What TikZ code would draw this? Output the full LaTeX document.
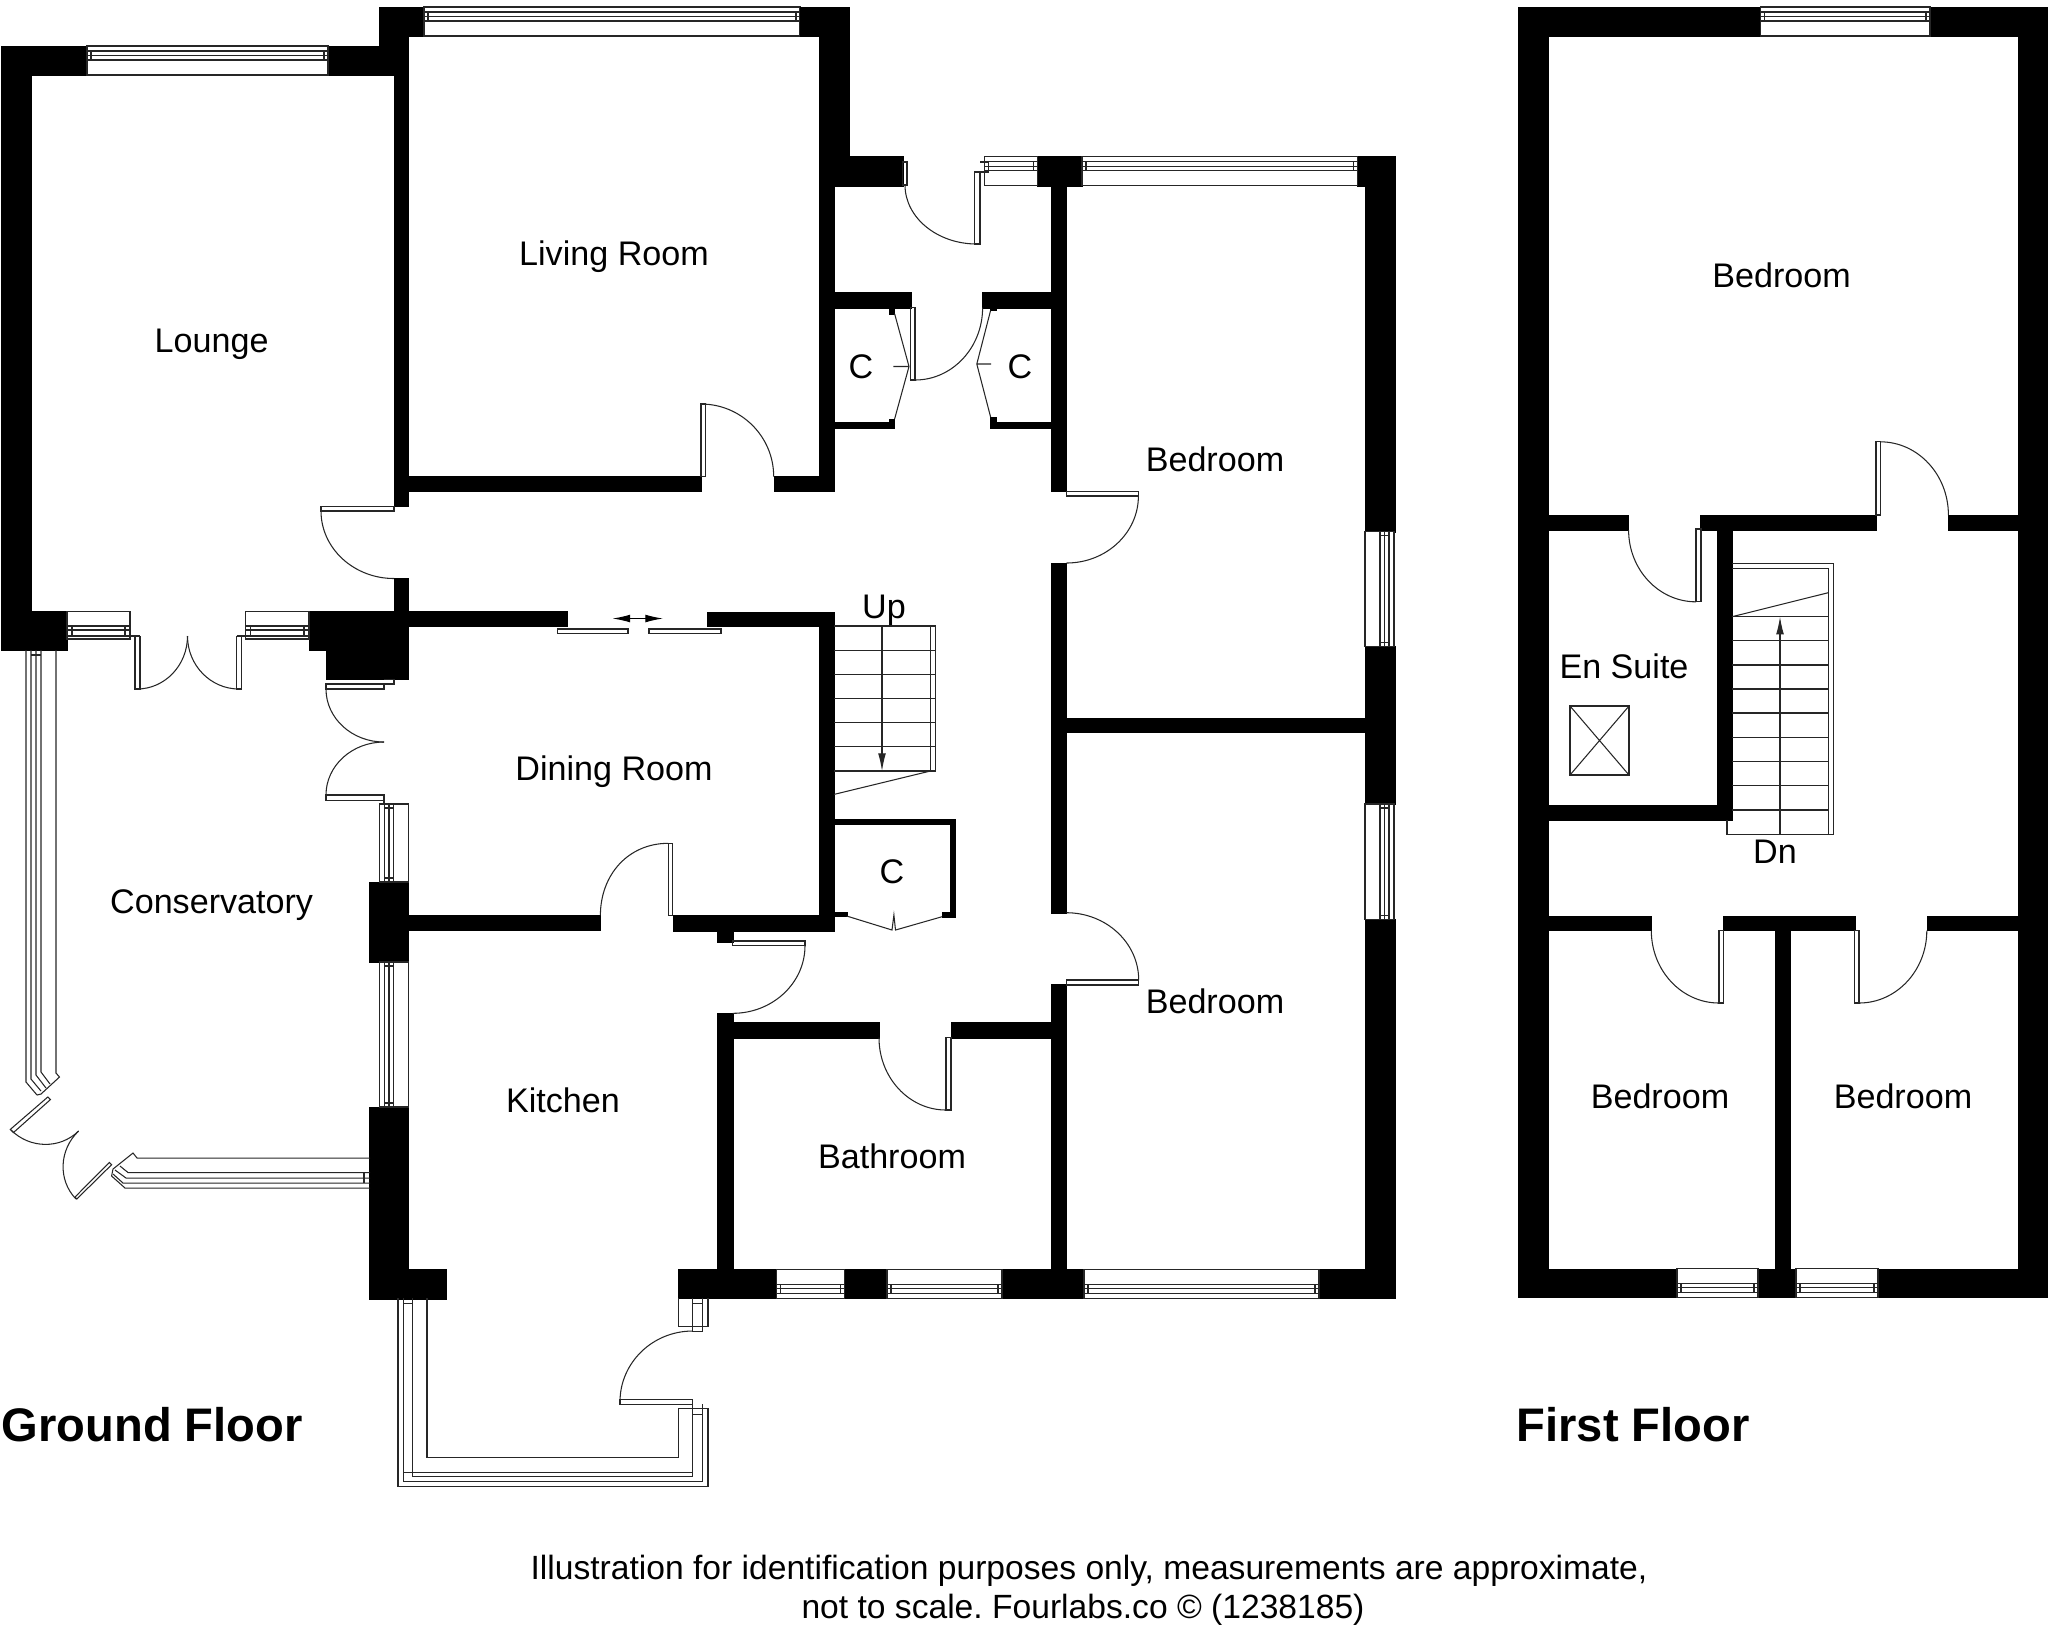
\documentclass[tikz,border=0pt]{standalone}
\usepackage{fontspec}
\setmainfont{Liberation Sans}
\frenchspacing
\usetikzlibrary{calc,arrows.meta}
\tikzset{
	wall/.style={fill=black,draw=black,line width=0.1pt},
	fine/.style={draw=black!85,line width=0.3pt},
	room/.style={inner sep=0pt,text height=6.9pt,text depth=0pt,font=\fontsize{9.7}{11}\selectfont},
	note/.style={inner sep=0pt,text height=6.9pt,text depth=0pt,font=\fontsize{9.56}{11}\selectfont},
	floorname/.style={inner sep=0pt,anchor=west,font=\fontsize{13.4}{15}\selectfont\bfseries},
	tip/.style={-{Latex[length=5pt,width=2.2pt]}}
}
\def\swing(#1)(#2)(#3){\draw[fine] (#1) .. controls ($(#1)!0.552!(#3)$) and ($(#2)!0.552!(#3)$) .. (#2);}
\def\winh(#1,#2,#3,#4){
	\draw[fill=white,fine] (#1,#3) rectangle (#2,{#3+#4*29});
	\draw[fine] (#1,{#3+#4*5}) -- (#2,{#3+#4*5}) (#1,{#3+#4*9.5}) -- (#2,{#3+#4*9.5}) (#1,{#3+#4*14}) -- (#2,{#3+#4*14});
	\draw[fine] ({#1+4},{#3+#4*5}) -- ({#1+4},{#3+#4*14}) ({#2-4},{#3+#4*5}) -- ({#2-4},{#3+#4*14});
}
\def\winv(#1,#2,#3,#4){
	\draw[fill=white,fine] (#1,#2) rectangle ({#1+#4*29},#3);
	\draw[fine] ({#1+#4*5},#2) -- ({#1+#4*5},#3) ({#1+#4*9.5},#2) -- ({#1+#4*9.5},#3) ({#1+#4*14},#2) -- ({#1+#4*14},#3);
	\draw[fine] ({#1+#4*5},{#2+4}) -- ({#1+#4*14},{#2+4}) ({#1+#4*5},{#3-4}) -- ({#1+#4*14},{#3-4});
}
\def\winlow(#1,#2){
	\draw[fine] (#1,611.6) rectangle (#2,639);
	\draw[fine] (#1,626) -- (#2,626) (#1,630) -- (#2,630) (#1,636) -- (#2,636);
	\draw[fine] ({#1+5},626) -- ({#1+5},636) ({#2-5},626) -- ({#2-5},636);
}

\begin{document}
\begin{tikzpicture}[x=0.01cm,y=-0.01cm]
	\useasboundingbox (0,0) rectangle (2048,1626);

	% lounge and living room
	\draw[wall] (1.5,46) rectangle (87,75);
	\draw[wall] (328,46) rectangle (408.5,75);
	\draw[wall] (379,7) rectangle (424,36);
	\draw[wall] (379,36) rectangle (408.5,46);
	\draw[wall] (1.5,46) rectangle (31.5,650);
	\draw[wall] (1.5,611.6) rectangle (67,650);
	\draw[wall] (394,75) rectangle (408.5,506);
	\draw[wall] (394,476.6) rectangle (701,491.3);
	\draw[wall] (773.7,476.6) rectangle (834,491.3);
	\draw[wall] (394,578.5) rectangle (408.5,611.6);
	\winh(87,328,46,1)
	\winh(424,800,7,1)
	\draw[wall] (800,7) rectangle (848.7,36);
	\draw[wall] (819,36) rectangle (848.7,186);
	\draw[wall] (819,156.6) rectangle (902.7,186);
	\draw[wall] (819,186) rectangle (834,491.3);

	% dining room walls
	\draw[wall] (309,611.6) rectangle (567.4,626.3);
	\draw[wall] (309,626) rectangle (408.5,650);
	\draw[wall] (326,650) rectangle (408.5,679.5);
	\draw[wall] (707,612) rectangle (834,626.3);
	\draw[wall] (819,612) rectangle (834,931);
	\draw[wall] (369.6,882) rectangle (408.5,962);
	\draw[wall] (408.5,915.4) rectangle (600.4,930.6);
	\draw[wall] (672.8,915.4) rectangle (834,931);

	% hall cupboards
	\draw[wall] (819,292) rectangle (910.7,307.7);
	\draw[wall] (982.6,292) rectangle (1066.5,307.7);
	\draw[wall] (834,422.5) rectangle (894.6,428.4);
	\draw[wall] (990.6,422.5) rectangle (1051,428.4);
	\draw[wall] (888.8,307.7) rectangle (894.6,313.7);
	\draw[wall] (888.8,419) rectangle (894.6,422.5);
	\draw[wall] (990.6,307.7) rectangle (996,310.4);
	\draw[wall] (990.6,417) rectangle (996,422.5);
	\draw[wall] (834,819) rectangle (955,824.3);
	\draw[wall] (949.7,819) rectangle (955,916.7);
	\draw[wall] (942,911.7) rectangle (949.7,916.7);
	\draw[wall] (834,911.7) rectangle (846.7,916);

	% bedrooms, ground floor
	\draw[wall] (1037.5,156.6) rectangle (1082,186);
	\draw[wall] (1357.6,156.6) rectangle (1395,186);
	\draw[wall] (1051.3,186) rectangle (1066.5,491.3);
	\draw[wall] (1051.3,563) rectangle (1066.5,912.7);
	\draw[wall] (1051.3,984.3) rectangle (1066.5,1298);
	\draw[wall] (1365,186) rectangle (1395,531.7);
	\draw[wall] (1365,646.5) rectangle (1395,804);
	\draw[wall] (1365,919.4) rectangle (1395,1298);
	\draw[wall] (1051,717.7) rectangle (1395,732.4);
	\winh(1082,1357.6,156.6,1)
	\winh(984.8,1037.5,156.6,1)
	\winv(1394,531.7,646.5,-1)
	\winv(1394,804,919.4,-1)

	% kitchen and bathroom
	\draw[wall] (369.6,1107) rectangle (408.5,1299);
	\draw[wall] (369.6,1269) rectangle (446.4,1299);
	\draw[wall] (717.3,931) rectangle (732.7,941.7);
	\draw[wall] (717.3,1013.3) rectangle (732.7,1269);
	\draw[wall] (717.3,1022.3) rectangle (879,1037.7);
	\draw[wall] (950.7,1022.3) rectangle (1051,1037.7);
	\draw[wall] (678.4,1269) rectangle (776.6,1298.3);
	\draw[wall] (844.5,1269) rectangle (887,1298.3);
	\draw[wall] (1002,1269) rectangle (1084,1298.3);
	\draw[wall] (1319,1269) rectangle (1395,1298.3);
	\winh(776.6,844.5,1298.3,-1)
	\winh(887,1002,1298.3,-1)
	\winh(1084,1319,1298.3,-1)
	\winv(379.5,804,882,1)
	\winv(379.5,962,1107,1)

	% french doors to the conservatory
	\winlow(67,130)
	\winlow(245.5,309)
	\draw[fine] (125,636) -- (140,636) (135,636) -- (135,689) -- (140,689) -- (140,636);
	\draw[fine] (236.6,636) -- (251,636) (236.6,636) -- (236.6,689) -- (241.5,689) -- (241.5,636);
	\swing(187.5,636)(137,689)(187.5,689)
	\swing(187.5,636)(239,689)(187.5,689)
	\draw[fine] (326,684) rectangle (384,689);
	\draw[fine] (384,679.5) -- (394,679.5) -- (394,684) -- (384,684);
	\swing(326,689)(384,742)(326,742)
	\swing(384,742)(326,795)(326,742)
	\draw[fine] (326,795) rectangle (384,800.6);
	\draw[fine] (384,795) -- (384,804);

	% conservatory glazing
	\draw[fine] (26,650) -- (26,1082) -- (37,1095);
	\draw[fine] (31,650) -- (31,1079) -- (41,1091);
	\draw[fine] (36,650) -- (36,1075) -- (46,1088);
	\draw[fine] (41,650) -- (41,1072) -- (50,1084);
	\draw[fine] (56,650) -- (56,1073) -- (59.5,1077) -- (41,1094) -- (37,1095);
	\draw[fine] (31,655) -- (41,655);
	\draw[fine] (47.8,1097) -- (50.4,1099.6) -- (13.4,1132.6) -- (10.3,1129.4) -- cycle;
	\swing(11,1130)(78.6,1131)(45,1164)
	\swing(78.6,1131)(76,1199)(43,1165)
	\draw[fine] (75,1197) -- (76.8,1199) -- (111.6,1164.7) -- (109.4,1162.4) -- cycle;
	\draw[fine] (370,1158) -- (137,1158) -- (133,1153) -- (113,1169) -- (111.6,1176) -- (125,1188) -- (370,1188);
	\draw[fine] (370,1172.5) -- (128,1172.5) -- (120,1166);
	\draw[fine] (370,1178) -- (126,1178) -- (115,1170);
	\draw[fine] (370,1183) -- (123,1183) -- (113,1174);
	\draw[fine] (364,1172.5) -- (364,1183);

	% kitchen bay
	\draw[fine] (398,1298) -- (398,1486.7) -- (708,1486.7) -- (708,1408.3);
	\draw[fine] (403.4,1298) -- (403.4,1481.7) -- (702.5,1481.7) -- (702.5,1404);
	\draw[fine] (412.3,1298) -- (412.3,1476.7) -- (692.7,1476.7) -- (692.7,1404);
	\draw[fine] (403.4,1472.3) -- (692.7,1472.3);
	\draw[fine] (427,1298) -- (427,1457.7) -- (678.4,1457.7) -- (678.4,1408.3) -- (708,1408.3);
	\draw[fine] (403.4,1303) -- (412.3,1303) (692.7,1414) -- (702.5,1414);
	\draw[fine] (678.4,1298) -- (678.4,1326.7) -- (708,1326.7) -- (708,1298);
	\draw[fine] (692.7,1298) -- (692.7,1331.7) -- (702.5,1331.7) -- (702.5,1298);
	\draw[fine] (692.7,1303) -- (702.5,1303);
	\draw[fine] (620,1399) rectangle (692.7,1404.3);
	\swing(692.7,1331)(620,1401.7)(620,1331)

	% doors, ground floor
	\draw[fine] (321,506.4) rectangle (394,511);
	\swing(321,511)(394,578.5)(321,578.5)
	\draw[fine] (557.6,629) rectangle (628,633.6);
	\draw[fine] (649,629) rectangle (721,633.6);
	\draw[{Latex[length=5pt,width=2.2pt]}-{Latex[length=5pt,width=2.2pt]},line width=0.3pt] (612.5,618.5) -- (663,618.5);
	\draw[fine] (701,404) rectangle (705.6,476.6);
	\swing(701,404)(773.7,476.6)(773.7,404)
	\draw[fine] (902.7,162) rectangle (907,185);
	\draw[fine] (974.6,172) rectangle (980,244);
	\draw[fine] (974.6,172) -- (989,172) (980,162) -- (989,162);
	\swing(905,185)(976.8,244)(905,244)
	\draw[fine] (910.7,307.7) rectangle (915,380);
	\swing(915,380)(982.6,307.7)(982.6,380)
	\draw[fine] (894.6,313.7) -- (909,366.5) -- (894.6,419) (893.3,366.5) -- (909,366.5);
	\draw[fine] (990.6,310.4) -- (976.8,364) -- (990.6,417) (976.8,364) -- (991,364);
	\draw[fine] (1066.5,491.3) rectangle (1138.4,496);
	\swing(1138.4,496)(1066.5,563)(1138.4,563)
	\draw[fine] (600.4,915.4) .. controls (600.4,875) and (628,843.3) .. (668.3,843.3);
	\draw[fine] (668.3,843.3) rectangle (672.8,915.4);
	\draw[fine] (846.7,916) -- (892,930) -- (893.9,915) -- (895.5,930) -- (942,916.7);
	\draw[fine] (732.7,941) rectangle (805,945.7);
	\swing(805,945.7)(732.7,1013.3)(805,1013.3)
	\draw[fine] (946,1037.7) rectangle (951,1110);
	\swing(879,1037.7)(946,1110)(879,1110)
	\draw[fine] (1066.3,980) rectangle (1138.7,985);
	\swing(1066.3,912.7)(1138.7,980)(1138.7,912.7)

	% stairs up
	\foreach \treadY in {626,650.3,674.6,698.4,722.3,746.6,771}
		\draw[fine] (834,\treadY) -- (935.7,\treadY);
	\draw[fine] (930.4,626) -- (930.4,771) (935.7,626) -- (935.7,771);
	\draw[fine] (930.4,771) -- (834,794.4);
	\draw[fine,tip] (882,626) -- (882,771);

	% first floor walls
	\draw[wall] (1518,7) rectangle (1760.5,36.6);
	\draw[wall] (1930,7) rectangle (2047,36.6);
	\draw[wall] (1518,7) rectangle (1548,1297);
	\draw[wall] (2018,7) rectangle (2047,1297);
	\draw[wall] (1518,515) rectangle (1628.6,530);
	\draw[wall] (1700.6,515) rectangle (1876.4,530);
	\draw[wall] (1948.4,515) rectangle (2018,530);
	\draw[wall] (1717,530) rectangle (1732,820);
	\draw[wall] (1518,805) rectangle (1732,820);
	\draw[wall] (1518,916) rectangle (1651.3,930.5);
	\draw[wall] (1723.3,916) rectangle (1854.8,930.5);
	\draw[wall] (1926.8,916) rectangle (2018,930.5);
	\draw[wall] (1775,930) rectangle (1790,1270);
	\draw[wall] (1518,1269) rectangle (1677,1297);
	\draw[wall] (1758,1269) rectangle (1796,1297);
	\draw[wall] (1878,1269) rectangle (2047,1297);
	\winh(1760.5,1930,7,1)
	\winh(1677,1758,1297,-1)
	\winh(1796,1878,1297,-1)

	% first floor doors
	\draw[fine] (1696,529) rectangle (1701,601.8);
	\swing(1628.6,530)(1696,601.8)(1628.6,601.8)
	\draw[fine] (1876,441.8) rectangle (1880.3,515);
	\swing(1880.3,441.8)(1948.4,515)(1948.4,441.8)
	\draw[fine] (1719,930.5) rectangle (1723.7,1003);
	\swing(1651.3,930.5)(1719,1003)(1651.3,1003)
	\draw[fine] (1854.8,930.5) rectangle (1859,1003);
	\swing(1926.8,930.5)(1859,1003)(1926.8,1003)

	% stairs down and roof light
	\draw[fine] (1732,563.5) -- (1833.4,563.5) -- (1833.4,834.5) -- (1727,834.5) -- (1727,820);
	\draw[fine] (1732,568.5) -- (1828.6,568.5) -- (1828.6,834.5);
	\foreach \treadY in {616.7,640.8,665,689,713,737.3,761.4,785.5,810,834.5}
		\draw[fine] (1732,\treadY) -- (1828.6,\treadY);
	\draw[fine] (1732,616.7) -- (1828.6,592.6);
	\draw[fine,tip] (1780,834.5) -- (1780,616.7);
	\draw[fine] (1570,706) rectangle (1629,775);
	\draw[fine] (1570,706) -- (1629,775) (1629,706) -- (1570,775);

	\node[room] (lounge) at (211.6,340) {Lounge};
	\node[room] (living) at (614,253) {Living Room};
	\node[room] (bedeast) at (1215,459) {Bedroom};
	\node[room] (cuphall) at (861,366) {C};
	\node[room] (cupbed) at (1020,366) {C};
	\node[room] (up) at (884,606) {Up};
	\node[room] (dining) at (614,768) {Dining Room};
	\node[room] (conserv) at (211.6,901) {Conservatory};
	\node[room] (cuplow) at (892,871) {C};
	\node[room] (bedsouth) at (1215,1001) {Bedroom};
	\node[room] (kitchen) at (563,1100) {Kitchen};
	\node[room] (bath) at (892,1156) {Bathroom};
	\node[room] (bedtop) at (1781.6,275.6) {Bedroom};
	\node[room] (ensuite) at (1624,666) {En Suite};
	\node[room] (bedleft) at (1660,1096) {Bedroom};
	\node[room] (bedright) at (1903,1096) {Bedroom};
	\node[room] (dn) at (1775,851) {Dn};

	\node[floorname] (ground) at (1,1425) {Ground Floor};
	\node[floorname] (first) at (1516,1425) {First Floor};
	\node[note] (noteone) at (1089,1567) {Illustration for identification purposes only, measurements are approximate,};
	\node[note] (notetwo) at (1083,1606) {not to scale. Fourlabs.co © (1238185)};
\end{tikzpicture}
\end{document}
